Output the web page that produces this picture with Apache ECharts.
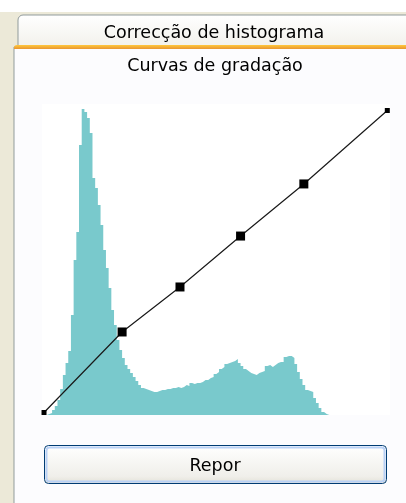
<!DOCTYPE html>
<html>
<head>
<meta charset="utf-8">
<script src="https://cdn.jsdelivr.net/npm/echarts@6/dist/echarts.min.js"></script>
<style>
  html, body { margin: 0; padding: 0; background: #fff; }
  #box { width: 406px; height: 503px; }
</style>
</head>
<body>
<div id="box"></div>
<script>
// histograma: 128 classes de 2 níveis (0..255), alturas
var histo = [
  0, 1, 2, 5, 9, 15, 26, 40, 52, 64,
  100, 155, 183, 270, 306, 303, 297, 282, 237, 227,
  210, 190, 165, 147, 127, 105, 90, 75, 65, 57,
  50, 46, 42, 38, 34, 30, 27, 26, 25, 24,
  23, 23, 24, 25, 25, 26, 26, 27, 27, 28,
  27, 28, 30, 29, 32, 31, 32, 32, 33, 35,
  35, 37, 38, 41, 43, 46, 48, 51, 52, 53,
  54, 56, 52, 49, 46, 44, 42, 41, 40, 42,
  43, 44, 49, 50, 48, 50, 52, 53, 53, 58,
  59, 59, 57, 51, 43, 36, 30, 25, 24, 23,
  17, 12, 7, 3, 1, 0, 0, 0, 0, 0,
  0, 0, 0, 0, 0, 0, 0, 0, 0, 0,
  0, 0, 0, 0, 0, 0, 0, 0
];
var binWidth = 2;

// pontos da curva (entrada -> saída)
var curveIn  = [0, 58, 101, 146, 193, 255];
var curveOut = [0, 68, 106, 149, 193, 255];

var tabTitle = 'Correcção de histograma';
var chartTitle = 'Curvas de gradação';
var buttonText = 'Repor';

var histData = histo.map(function (v, i) { return [i * binWidth, v]; });
histData.push([histo.length * binWidth, histo[histo.length - 1]]);

var curveData = curveIn.map(function (x, i) { return [x, curveOut[i]]; });

var font = '17.5px "DejaVu Sans", sans-serif';

var myChart = echarts.init(document.getElementById('box'));

var option = {
  animation: false,
  backgroundColor: 'transparent',
  graphic: [
    // fundo cinzento da janela
    { type: 'rect', z: -20, shape: { x: 0, y: 12, width: 406, height: 491 }, style: { fill: '#ECE9D8' } },
    // separador
    { type: 'rect', z: -19, shape: { x: 18, y: 15, width: 400, height: 34, r: [5, 0, 0, 0] },
      style: { fill: { type: 'linear', x: 0, y: 0, x2: 0, y2: 1, colorStops: [{ offset: 0, color: '#FFFFFF' }, { offset: 1, color: '#F1F0EA' }] },
               stroke: '#919B9C', lineWidth: 1 } },
    { type: 'text', z: -18, x: 214, y: 33,
      style: { text: tabTitle, font: font, fill: '#000', align: 'center', verticalAlign: 'middle' } },
    // painel
    { type: 'rect', z: -19, shape: { x: 14, y: 47, width: 400, height: 470 }, style: { fill: '#FCFCFE', stroke: '#919B9C', lineWidth: 1 } },
    { type: 'rect', z: -18, shape: { x: 14, y: 45, width: 400, height: 4, r: [3, 0, 0, 0] },
      style: { fill: { type: 'linear', x: 0, y: 0, x2: 0, y2: 1, colorStops: [{ offset: 0, color: '#FFC83C' }, { offset: 1, color: '#E8952F' }] } } },
    { type: 'text', z: -18, x: 215, y: 66,
      style: { text: chartTitle, font: font, fill: '#000', align: 'center', verticalAlign: 'middle' } },
    // botão
    { type: 'rect', z: -18, shape: { x: 44.5, y: 445.5, width: 342, height: 38, r: 4 },
      style: { fill: { type: 'linear', x: 0, y: 0, x2: 0, y2: 1, colorStops: [{ offset: 0, color: '#FFFFFF' }, { offset: 0.8, color: '#F0EFEA' }, { offset: 1, color: '#E2E0D6' }] },
               stroke: '#003C74', lineWidth: 1 } },
    { type: 'rect', z: -17, shape: { x: 46.5, y: 447.5, width: 338, height: 34, r: 3 },
      style: { fill: 'none', stroke: '#B9D1F6', lineWidth: 2 } },
    { type: 'text', z: -16, x: 215, y: 466,
      style: { text: buttonText, font: font, fill: '#000', align: 'center', verticalAlign: 'middle' } }
  ],
  grid: {
    left: 42, right: 16, top: 104, bottom: 88,
    show: true, backgroundColor: '#FFFFFF', borderWidth: 0
  },
  xAxis: { type: 'value', min: -1.5, max: 257, show: false },
  yAxis: [
    { type: 'value', min: -2.1, max: 260.5, show: false },
    { type: 'value', min: 0, max: 311, show: false }
  ],
  series: [
    {
      type: 'line',
      yAxisIndex: 1,
      step: 'end',
      data: histData,
      symbol: 'none',
      silent: true,
      lineStyle: { width: 0 },
      areaStyle: { color: '#79C9CC', opacity: 1 },
      z: 1
    },
    {
      type: 'line',
      yAxisIndex: 0,
      data: curveData,
      symbol: 'rect',
      symbolSize: function (v, p) {
        return (p.dataIndex === 0 || p.dataIndex === curveData.length - 1) ? 5 : 9;
      },
      lineStyle: { color: '#1A1A1A', width: 1.2 },
      itemStyle: { color: '#000' },
      z: 3
    }
  ]
};

myChart.setOption(option);
</script>
</body>
</html>
